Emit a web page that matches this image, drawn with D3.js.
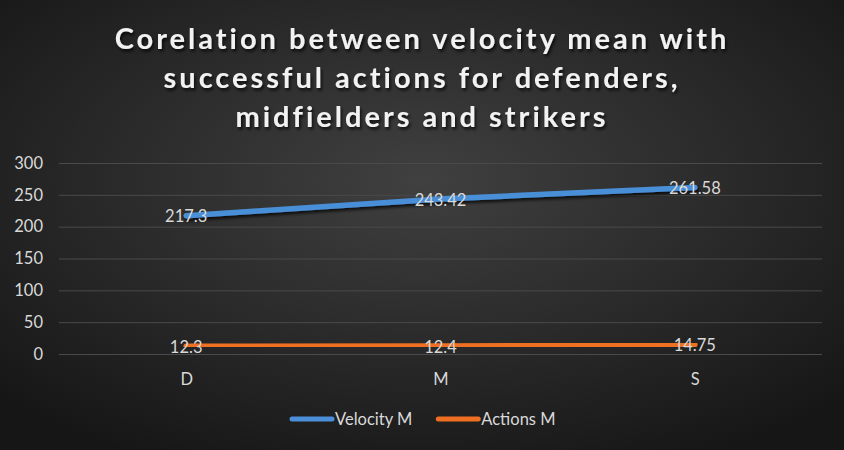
<!DOCTYPE html>
<html>
<head>
<meta charset="utf-8">
<script src="https://cdn.jsdelivr.net/npm/d3@7"></script>
<style>
  body { margin: 0; background: #222; }
  svg { display: block; }
  text { font-family: Lato, "Open Sans", sans-serif; }
</style>
</head>
<body>
<script>
// data
const categories = ["D", "M", "S"];
const velocity = [217.3, 243.42, 261.58];
const actions = [12.3, 12.4, 14.75];
const seriesNames = ["Velocity M", "Actions M"];
const yTicks = [0, 50, 100, 150, 200, 250, 300];
const titleLines = [
  "Corelation between velocity mean with",
  "successful actions for defenders,",
  "midfielders and strikers"
];

const W = 844, H = 450;
const margin = { top: 163, right: 22, bottom: 96, left: 59 };

const svg = d3.select("body").append("svg")
  .attr("width", W)
  .attr("height", H);

// 背景漸層
const defs = svg.append("defs");
const grad = defs.append("radialGradient")
  .attr("id", "bg")
  .attr("cx", "50%").attr("cy", "40%").attr("r", "70%");
grad.append("stop").attr("offset", "0%").attr("stop-color", "#404040");
grad.append("stop").attr("offset", "100%").attr("stop-color", "#161616");

const shadow = defs.append("filter").attr("id", "shadow")
  .attr("x", "-10%").attr("y", "-50%").attr("width", "120%").attr("height", "200%");
shadow.append("feDropShadow")
  .attr("dx", 1.5).attr("dy", 2.5).attr("stdDeviation", 1.5)
  .attr("flood-color", "#000").attr("flood-opacity", 0.75);

svg.append("rect")
  .attr("width", W).attr("height", H)
  .attr("fill", "url(#bg)");

// 標題
svg.append("g")
  .attr("filter", "url(#shadow)")
  .selectAll("text")
  .data(titleLines)
  .join("text")
  .attr("x", W / 2)
  .attr("y", (d, i) => 49 + i * 39)
  .attr("text-anchor", "middle")
  .attr("font-size", 29)
  .attr("font-weight", "bold")
  .attr("letter-spacing", 3)
  .attr("fill", "#f2f2f2")
  .text(d => d);

const plotW = W - margin.left - margin.right,
  plotH = H - margin.top - margin.bottom;

const g = svg.append("g")
  .attr("transform", "translate(" + margin.left + ", " + margin.top + ")");

const x = d3.scalePoint()
  .domain(categories)
  .range([0, plotW])
  .padding(0.5);

const y = d3.scaleLinear()
  .domain([0, 300])
  .range([plotH, 0]);

// 格線
g.append("g")
  .attr("class", "grid")
  .call(d3.axisRight(y).tickValues(yTicks).tickSize(plotW).tickFormat(""))
  .call(s => s.select(".domain").remove())
  .call(s => s.selectAll("line").attr("stroke", "#4a4a4a").attr("stroke-width", 1));

// Y 軸
g.append("g")
  .call(d3.axisLeft(y).tickValues(yTicks).tickSize(0).tickPadding(16))
  .call(s => s.select(".domain").remove())
  .call(s => s.selectAll("text")
    .attr("fill", "#d9d9d9")
    .attr("font-size", 16.5)
    .style("font-family", "Lato, 'Open Sans', sans-serif"));

// X 軸
g.append("g")
  .attr("transform", "translate(0, " + plotH + ")")
  .call(d3.axisBottom(x).tickSize(0).tickPadding(19))
  .call(s => s.select(".domain").remove())
  .call(s => s.selectAll("text")
    .attr("fill", "#d9d9d9")
    .attr("font-size", 16.5)
    .style("font-family", "Lato, 'Open Sans', sans-serif"));

const series = [
  { name: seriesNames[0], values: velocity, color: "#4a8fd8" },
  { name: seriesNames[1], values: actions, color: "#ef6f22" }
];

const line = d3.line()
  .x((d, i) => x(categories[i]))
  .y(d => y(d));

// 折線
series.forEach(s => {
  g.append("path")
    .datum(s.values)
    .attr("d", line)
    .attr("fill", "none")
    .attr("stroke", s.color)
    .attr("stroke-width", 5.5)
    .attr("stroke-linecap", "round")
    .attr("stroke-linejoin", "round")
    .attr("filter", "url(#shadow)");
});

// 資料標籤
series.forEach(s => {
  g.append("g")
    .selectAll("text")
    .data(s.values)
    .join("text")
    .attr("x", (d, i) => x(categories[i]))
    .attr("y", d => y(d))
    .attr("dy", "0.4em")
    .attr("text-anchor", "middle")
    .attr("font-size", 16.5)
    .attr("fill", "#d9d9d9")
    .text(d => d);
});

// 圖例
const legend = svg.append("g")
  .attr("transform", "translate(290, 419)");
let lx = 0;
series.forEach(s => {
  const item = legend.append("g").attr("transform", "translate(" + lx + ", 0)");
  item.append("line")
    .attr("x1", 2).attr("x2", 42)
    .attr("stroke", s.color)
    .attr("stroke-width", 5)
    .attr("stroke-linecap", "round");
  const t = item.append("text")
    .attr("x", 45)
    .attr("dy", "0.36em")
    .attr("font-size", 16.5)
    .attr("fill", "#d9d9d9")
    .text(s.name);
  lx += 45 + t.node().getComputedTextLength() + 24;
});
</script>
</body>
</html>
